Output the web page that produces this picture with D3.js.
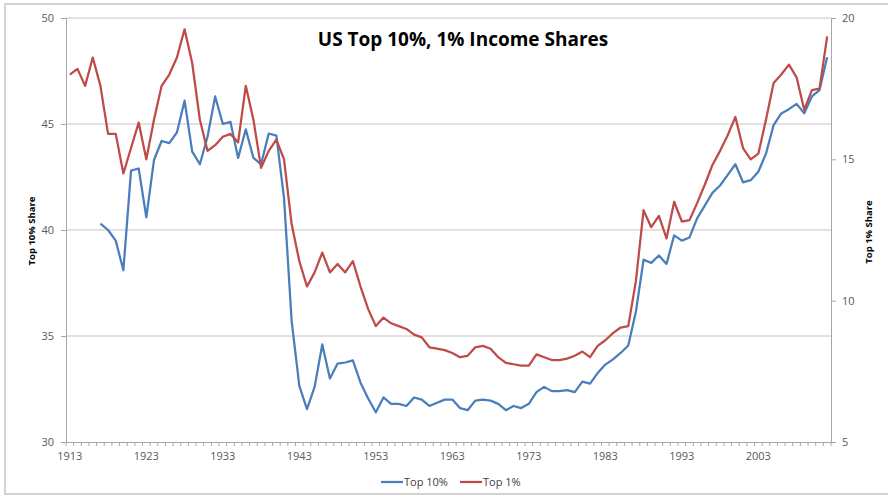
<!DOCTYPE html>
<html>
<head>
<meta charset="utf-8">
<script src="https://cdn.jsdelivr.net/npm/d3@7"></script>
<style>
  body { margin: 0; background: #fff; }
  svg text { font-family: "Open Sans", Calibri, sans-serif; }
</style>
</head>
<body>
<svg id="chart" width="888" height="496"></svg>
<script>
// years 1913..2012
var years = d3.range(1913, 2013);

// top 10% income share (left axis), starts in 1917
var top10 = [null, null, null, null,
  40.3, 40.0, 39.5, 38.1, 42.8, 42.9, 40.6, 43.3, 44.2, 44.1,
  44.6, 46.1, 43.7, 43.1, 44.4, 46.3, 45.0, 45.1, 43.4, 44.75,
  43.4, 43.1, 44.55, 44.45, 41.5, 35.7, 32.65, 31.55, 32.6, 34.6,
  33.0, 33.7, 33.75, 33.85, 32.8, 32.05, 31.4, 32.1, 31.8, 31.8,
  31.7, 32.1, 32.0, 31.7, 31.85, 32.0, 32.0, 31.6, 31.5, 31.95,
  32.0, 31.95, 31.8, 31.5, 31.7, 31.6, 31.8, 32.35, 32.6, 32.4,
  32.4, 32.45, 32.35, 32.85, 32.75, 33.25, 33.65, 33.9, 34.2, 34.55,
  36.15, 38.6, 38.45, 38.8, 38.4, 39.75, 39.5, 39.65, 40.55, 41.15,
  41.75, 42.1, 42.6, 43.1, 42.25, 42.35, 42.75, 43.6, 44.95, 45.5,
  45.7, 45.95, 45.5, 46.3, 46.6, 48.15];

// top 1% income share (right axis)
var top1 = [18.0, 18.2, 17.6, 18.6, 17.6, 15.9, 15.9, 14.5, 15.4, 16.3,
  15.0, 16.4, 17.6, 18.0, 18.6, 19.6, 18.4, 16.4, 15.3, 15.5,
  15.8, 15.9, 15.6, 17.6, 16.4, 14.7, 15.3, 15.7, 15.0, 12.7,
  11.4, 10.5, 11.0, 11.7, 11.0, 11.3, 11.0, 11.4, 10.5, 9.7,
  9.1, 9.4, 9.2, 9.1, 9.0, 8.8, 8.7, 8.35, 8.3, 8.25,
  8.15, 8.0, 8.05, 8.35, 8.4, 8.3, 8.0, 7.8, 7.75, 7.7,
  7.7, 8.1, 8.0, 7.9, 7.9, 7.95, 8.05, 8.2, 8.0, 8.4,
  8.6, 8.85, 9.05, 9.1, 10.7, 13.2, 12.6, 13.0, 12.2, 13.5,
  12.8, 12.85, 13.45, 14.1, 14.8, 15.3, 15.85, 16.5, 15.4, 15.0,
  15.2, 16.4, 17.7, 18.0, 18.35, 17.9, 16.75, 17.45, 17.5, 19.35];

var leftTicks = [30, 35, 40, 45, 50];
var rightTicks = [5, 10, 15, 20];
var yearLabels = d3.range(1913, 2013, 10);

var titleText = "US Top 10%, 1% Income Shares";
var seriesNames = ["Top 10%", "Top 1%"];
var colors = ["#4a7ebb", "#be4b48"];

var svg = d3.select("#chart");
var m = {left: 66, right: 831, top: 18, bottom: 442};

// outer frame
svg.append("rect")
  .attr("x", 5).attr("y", 4).attr("width", 900).attr("height", 490)
  .attr("fill", "none").attr("stroke", "#d4d4d4").attr("stroke-width", 2);

var x = d3.scaleBand().domain(years).range([m.left, m.right]).padding(0);
var yL = d3.scaleLinear().domain([30, 50]).range([m.bottom, m.top]);
var yR = d3.scaleLinear().domain([5, 20]).range([m.bottom, m.top]);

// gridlines
svg.append("g").selectAll("line")
  .data(leftTicks.slice(1))
  .enter().append("line")
  .attr("x1", m.left).attr("x2", m.right)
  .attr("y1", d => yL(d)).attr("y2", d => yL(d))
  .attr("stroke", "#c4c4c4").attr("stroke-width", 1);

// left axis
var axL = svg.append("g").attr("transform", "translate(" + m.left + ",0)")
  .call(d3.axisLeft(yL).tickValues(leftTicks).tickSize(5).tickPadding(7));
// right axis
var axR = svg.append("g").attr("transform", "translate(" + m.right + ",0)")
  .call(d3.axisRight(yR).tickValues(rightTicks).tickSize(5).tickPadding(6));
// bottom axis: minor ticks at category boundaries
var axB = svg.append("g").attr("transform", "translate(0," + m.bottom + ")")
  .call(d3.axisBottom(x).tickValues(yearLabels).tickSize(0).tickPadding(10));
axB.selectAll(".tick text").attr("dy", "0.71em");

var bounds = years.map(d => x(d)).concat([m.right]);
axB.append("g").selectAll("line")
  .data(bounds).enter().append("line")
  .attr("x1", d => d).attr("x2", d => d)
  .attr("y1", 0).attr("y2", 4)
  .attr("stroke", "#a6a6a6");

[axL, axR, axB].forEach(function(a) {
  a.select(".domain").attr("stroke", "#a6a6a6");
  a.selectAll(".tick line").attr("stroke", "#a6a6a6");
  a.selectAll(".tick text").attr("fill", "#595959")
    .style("font-size", "11px");
});

// lines
var cx = d => x(d) + x.bandwidth() / 2;
var line10 = d3.line()
  .defined((d, i) => top10[i] != null)
  .x(d => cx(d)).y((d, i) => yL(top10[i]));
var line1 = d3.line()
  .x(d => cx(d)).y((d, i) => yR(top1[i]));

svg.append("path").datum(years).attr("d", line10)
  .attr("fill", "none").attr("stroke", colors[0]).attr("stroke-width", 2.25)
  .attr("stroke-linejoin", "round");
svg.append("path").datum(years).attr("d", line1)
  .attr("fill", "none").attr("stroke", colors[1]).attr("stroke-width", 2.25)
  .attr("stroke-linejoin", "round");

// title
svg.append("text").attr("x", 463).attr("y", 46)
  .attr("text-anchor", "middle")
  .style("font-size", "19px").style("font-weight", "bold")
  .attr("fill", "#000").text(titleText);

// axis titles
svg.append("text")
  .attr("transform", "translate(35,231) rotate(-90)")
  .attr("text-anchor", "middle")
  .style("font-size", "9.5px").style("font-weight", "bold")
  .text("Top 10% Share");
svg.append("text")
  .attr("transform", "translate(872,232) rotate(-90)")
  .attr("text-anchor", "middle")
  .style("font-size", "9.5px").style("font-weight", "bold")
  .text("Top 1% Share");

// legend
var legend = svg.append("g").attr("transform", "translate(381,482)");
var legX = [0, 79];
seriesNames.forEach(function(n, i) {
  var g = legend.append("g").attr("transform", "translate(" + legX[i] + ",0)");
  g.append("line").attr("x1", 0).attr("x2", 22).attr("y1", 0).attr("y2", 0)
    .attr("stroke", colors[i]).attr("stroke-width", 2.25);
  g.append("text").attr("x", 23).attr("y", 4)
    .style("font-size", "11px").attr("fill", "#404040").text(n);
});
</script>
</body>
</html>
